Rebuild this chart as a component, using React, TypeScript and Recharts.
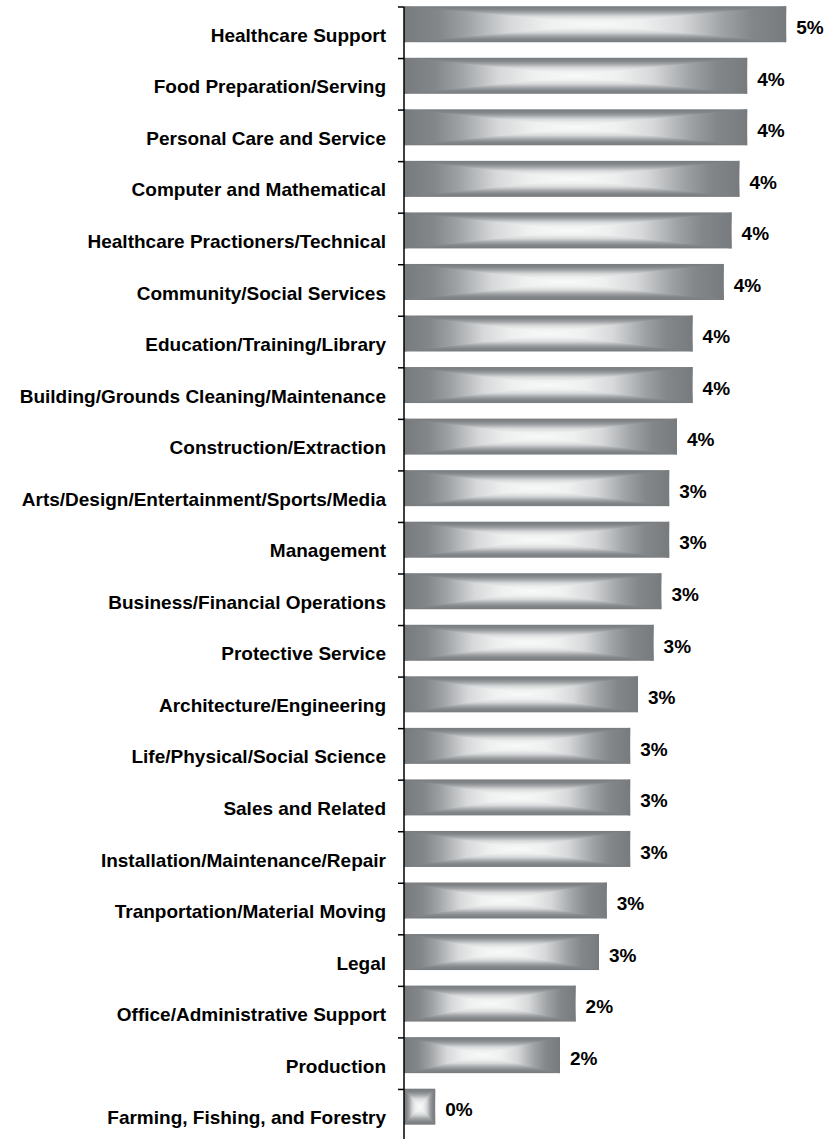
import { Bar, BarChart, LabelList, XAxis, YAxis } from "recharts";

const categories = [
  "Healthcare Support",
  "Food Preparation/Serving",
  "Personal Care and Service",
  "Computer and Mathematical",
  "Healthcare Practioners/Technical",
  "Community/Social Services",
  "Education/Training/Library",
  "Building/Grounds Cleaning/Maintenance",
  "Construction/Extraction",
  "Arts/Design/Entertainment/Sports/Media",
  "Management",
  "Business/Financial Operations",
  "Protective Service",
  "Architecture/Engineering",
  "Life/Physical/Social Science",
  "Sales and Related",
  "Installation/Maintenance/Repair",
  "Tranportation/Material Moving",
  "Legal",
  "Office/Administrative Support",
  "Production",
  "Farming, Fishing, and Forestry",
];

// percent of respondents
const values = [
  4.9, 4.4, 4.4, 4.3, 4.2, 4.1, 3.7, 3.7, 3.5, 3.4, 3.4, 3.3, 3.2, 3.0, 2.9,
  2.9, 2.9, 2.6, 2.5, 2.2, 2.0, 0.4,
];

const xDomain = [0, 5.5];

const W = 838;
const H = 1142;
const TOP = 7;
const BOTTOM = 1;
const AXIS_X = 404;
const BAR = 36;
const BAND = (H - TOP - BOTTOM) / categories.length;
// bars sit at the top of each band in the original
const BAR_SHIFT = -(BAND - BAR) / 2 - 1;

const FONT = '"Liberation Sans", Arial, Helvetica, sans-serif';

// edge -> centre colour ramp of the rectangular "from centre" fill
const ramp: [number, string][] = [
  [0, "#777b7e"],
  [0.18, "#83878a"],
  [0.33, "#9fa2a5"],
  [0.55, "#d6d8d9"],
  [0.75, "#eef0f0"],
  [1, "#f8f9f9"],
];

const data = categories.map((name, i) => ({ name, value: values[i] }));

function CategoryTick(props: any) {
  const { y, payload } = props;
  const yb = y - BAND / 2;
  return (
    <g>
      <line x1={AXIS_X - 6} x2={AXIS_X} y1={yb} y2={yb} stroke="#000" strokeWidth={1.5} />
      <text
        x={AXIS_X - 18}
        y={y + 9}
        textAnchor="end"
        fontFamily={FONT}
        fontWeight="bold"
        fontSize={19}
        fill="#000"
      >
        {payload.value}
      </text>
    </g>
  );
}

function GlossBar(props: any) {
  const { x, y, width, height } = props;
  if (!width || width <= 0) return null;
  const t = y + BAR_SHIFT;
  const r = x + width;
  const b = t + height;
  const cx = x + width / 2;
  const cy = t + height / 2;
  // vertical ramp on the whole rect, side wedges carry the horizontal ramp
  return (
    <g>
      <rect x={x} y={t} width={width} height={height} fill="url(#gVert)" />
      <polygon points={`${x},${t} ${x},${b} ${cx},${cy}`} fill="url(#gLeft)" />
      <polygon points={`${r},${t} ${r},${b} ${cx},${cy}`} fill="url(#gRight)" />
    </g>
  );
}

function ValueLabel(props: any) {
  const { x, y, width, height, value } = props;
  return (
    <text
      x={x + width + 10}
      y={y + height / 2 + 1}
      fontFamily={FONT}
      fontWeight="bold"
      fontSize={19}
      fill="#000"
    >
      {`${Math.round(value)}%`}
    </text>
  );
}

const halfStops = ramp.map(([o, c]) => (
  <stop key={o} offset={`${o * 100}%`} stopColor={c} />
));

const mirrorStops = [
  ...ramp.map(([o, c]) => <stop key={`a${o}`} offset={`${o * 50}%`} stopColor={c} />),
  ...ramp
    .slice()
    .reverse()
    .map(([o, c]) => <stop key={`b${o}`} offset={`${100 - o * 50}%`} stopColor={c} />),
];

export default function App() {
  return (
    <div
      style={{
        position: "absolute",
        left: 0,
        top: 0,
        width: W,
        height: 1139,
        overflow: "hidden",
        background: "#fff",
      }}
    >
      <BarChart
        width={W}
        height={H}
        data={data}
        layout="vertical"
        margin={{ top: TOP, right: 5, bottom: BOTTOM, left: 0 }}
        barSize={BAR}
      >
        <defs>
          <linearGradient id="gVert" x1="0" y1="0" x2="0" y2="1">
            {mirrorStops}
          </linearGradient>
          <linearGradient id="gLeft" x1="0" y1="0" x2="1" y2="0">
            {halfStops}
          </linearGradient>
          <linearGradient id="gRight" x1="1" y1="0" x2="0" y2="0">
            {halfStops}
          </linearGradient>
        </defs>
        <XAxis type="number" domain={xDomain} hide />
        <YAxis
          type="category"
          dataKey="name"
          width={AXIS_X}
          interval={0}
          tickLine={false}
          axisLine={{ stroke: "#000", strokeWidth: 1.5 }}
          tick={<CategoryTick />}
        />
        <Bar dataKey="value" shape={<GlossBar />} isAnimationActive={false}>
          <LabelList dataKey="value" content={<ValueLabel />} />
        </Bar>
      </BarChart>
    </div>
  );
}
